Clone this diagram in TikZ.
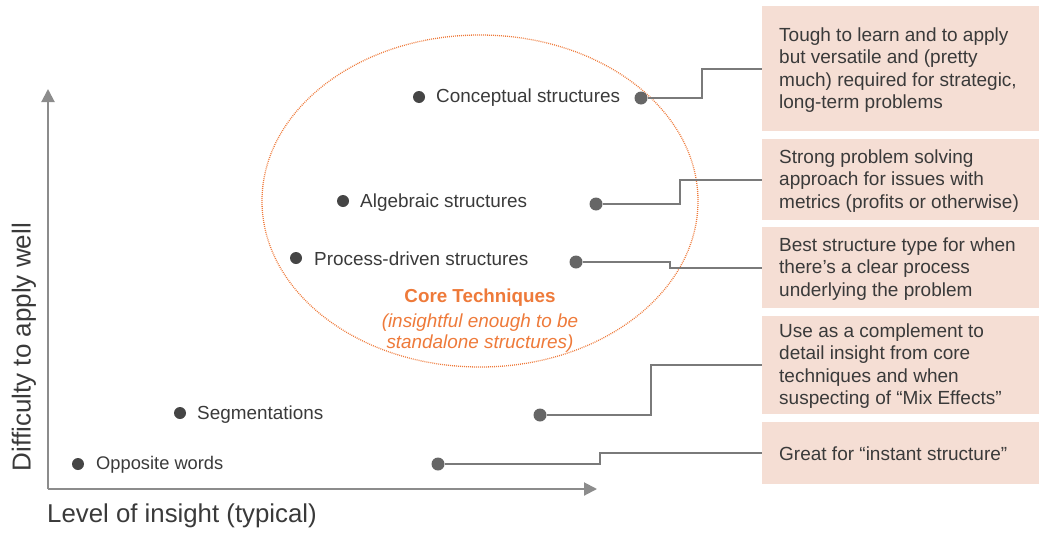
\documentclass[tikz,border=0pt]{standalone}
\usepackage{fontspec}
\setmainfont{Liberation Sans}
\usetikzlibrary{arrows.meta}
\definecolor{txt}{HTML}{3A3A3A}
\definecolor{dotc}{HTML}{454545}
\definecolor{rdotc}{HTML}{666666}
\definecolor{linec}{HTML}{7A7A7A}
\definecolor{axisc}{HTML}{8C8C8C}
\definecolor{boxc}{HTML}{F5DED4}
\definecolor{orng}{HTML}{EE7A3A}
\tikzset{
  ldot/.style={circle,fill=dotc,inner sep=0pt,minimum size=12pt},
  rdot/.style={circle,fill=rdotc,inner sep=0pt,minimum size=13pt},
  lbl/.style={anchor=west,inner sep=0pt,text=txt,font=\fontsize{18.9}{22}\selectfont},
  conn/.style={draw=linec,line width=1.8pt},
  axis/.style={draw=axisc,line width=2pt,-{Triangle[length=13pt,width=13pt]}},
  notebox/.style={fill=boxc,draw=none,minimum width=277pt,inner sep=0pt},
  notetxt/.style={anchor=west,align=left,inner sep=0pt,text=txt,font=\fontsize{19}{22.4}\selectfont},
}
\begin{document}
\begin{tikzpicture}[x=1pt,y=-1pt]
\useasboundingbox (0,0) rectangle (1047,541);
% axes
\coordinate (o) at (48,489);
\coordinate (ytip) at (48,89);
\coordinate (xtip) at (597,489);
\draw[axis] (o) -- (ytip);
\draw[axis] (o) -- (xtip);
\node[rotate=90,text=txt,font=\fontsize{26}{30}\selectfont,inner sep=0pt] (ylab) at (24,347) {Difficulty to apply well};
\node[anchor=west,text=txt,font=\fontsize{25.8}{30}\selectfont,inner sep=0pt] (xlab) at (47,516) {Level of insight (typical)};
% ellipse
\draw[orng,line width=1.3pt,dash pattern=on 0.9pt off 1.1pt] (480,201) ellipse [x radius=218, y radius=166];
\node[text=orng,font=\bfseries\fontsize{18.8}{22}\selectfont,inner sep=0pt] (core) at (480,298) {Core Techniques};
\node[text=orng,font=\itshape\fontsize{18.9}{21.5}\selectfont,align=center,inner sep=0pt] (coresub) at (480,333) {(insightful enough to be\\standalone structures)};
% left dots and labels
\node[ldot] (d1) at (419,97) {};
\node[lbl] (t1) at (436,98) {Conceptual structures};
\node[ldot] (d2) at (343,201) {};
\node[lbl] (t2) at (360,203) {Algebraic structures};
\node[ldot] (d3) at (296,258) {};
\node[lbl] (t3) at (314,259) {Process-driven structures};
\node[ldot] (d4) at (180,413) {};
\node[lbl] (t4) at (197,415) {Segmentations};
\node[ldot] (d5) at (78,464) {};
\node[lbl,font=\fontsize{18.3}{22}\selectfont] (t5) at (96,465) {Opposite words};
% boxes
\node[notebox,minimum height=125pt,anchor=north west] (b1) at (762,6) {};
\node[notetxt] (n1) at ([xshift=17pt,yshift=-1.5pt]b1.west) {Tough to learn and to apply\\but versatile and (pretty\\much) required for strategic,\\long-term problems};
\node[notebox,minimum height=81pt,anchor=north west] (b2) at (762,139) {};
\node[notetxt] (n2) at ([xshift=17pt,yshift=-1pt]b2.west) {Strong problem solving\\approach for issues with\\metrics (profits or otherwise)};
\node[notebox,minimum height=81pt,anchor=north west] (b3) at (762,227) {};
\node[notetxt] (n3) at ([xshift=17pt,yshift=-1pt]b3.west) {Best structure type for when\\there's a clear process\\underlying the problem};
\node[notebox,minimum height=98pt,anchor=north west] (b4) at (762,316) {};
\node[notetxt] (n4) at ([xshift=17pt,yshift=-1pt]b4.west) {Use as a complement to\\detail insight from core\\techniques and when\\suspecting of “Mix Effects”};
\node[notebox,minimum height=62pt,anchor=north west] (b5) at (762,422) {};
\node[notetxt] (n5) at ([xshift=17pt,yshift=-1pt]b5.west) {Great for “instant structure”};
% right dots
\node[rdot] (r1) at (641,98) {};
\node[rdot] (r2) at (596,204) {};
\node[rdot] (r3) at (576,262) {};
\node[rdot] (r4) at (540,415) {};
\node[rdot] (r5) at (438,464) {};
% connectors
\draw[conn] (r1.east) -- (702,98) |- (b1.west);
\draw[conn] (r2.east) -- (680,204) |- (b2.west);
\draw[conn] (r3.east) -- (670,262) |- (b3.west);
\draw[conn] (r4.east) -- (651,415) |- (b4.west);
\draw[conn] (r5.east) -- (600,464) |- (b5.west);
\end{tikzpicture}
\end{document}
